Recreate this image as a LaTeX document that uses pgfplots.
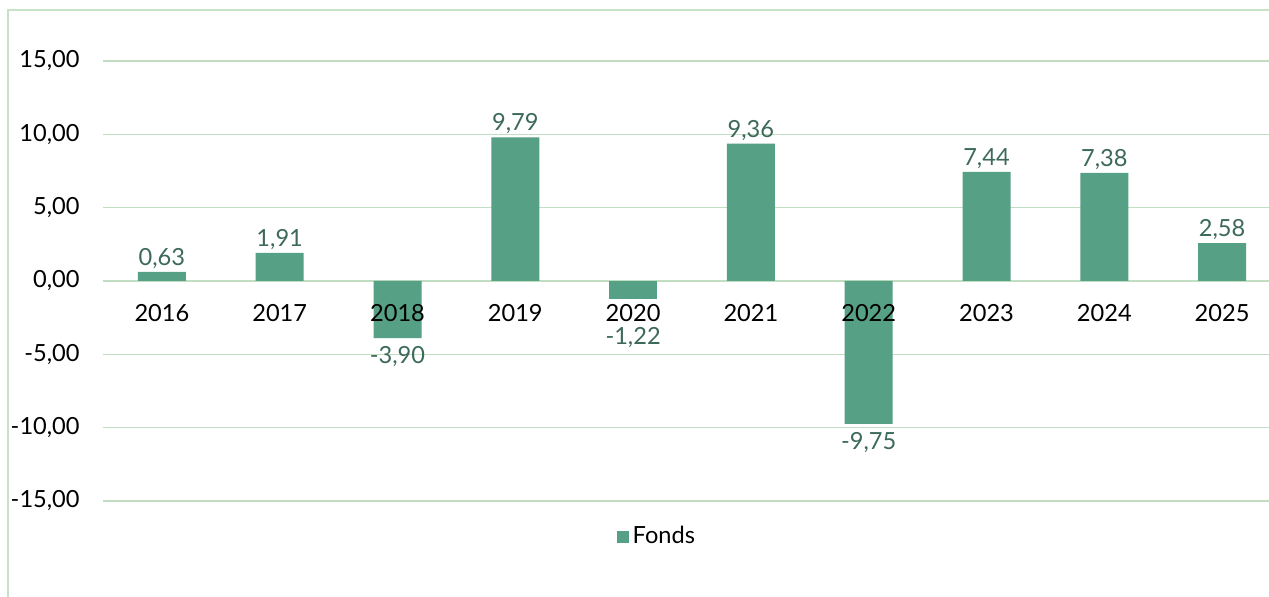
\documentclass[border=0pt]{standalone}
\usepackage{pgfplots}
\pgfplotsset{compat=1.18}
\usepackage{fontspec}
\setmainfont{Lato}
\definecolor{barcol}{HTML}{56A185}
\definecolor{labcol}{HTML}{3D6A58}
\definecolor{gridcol}{HTML}{C2DEC2}
\definecolor{framecol}{HTML}{C8E2C8}
\begin{document}
\fontsize{11.8}{14}\selectfont
\begin{tikzpicture}[x=0.5pt,y=0.5pt]
\path[use as bounding box] (0,0) rectangle (1269,597);
\clip (0,0) rectangle (1269,597);
\fill[white] (0,0) rectangle (1269,597);
\draw[framecol, line width=0.6pt] (8,0) -- (8,587) -- (1275,587);
\begin{axis}[
  at={(51.5pt,48pt)}, anchor=south west,
  scale only axis, width=589pt, height=220pt,
  xmin=-0.5, xmax=9.5, ymin=-15, ymax=15,
  axis line style={draw=none},
  tick style={draw=none},
  ymajorgrids, grid style={gridcol, line width=0.6pt},
  ytick={-15,-10,-5,0,5,10,15},
  yticklabels={{-15,00},{-10,00},{-5,00},{0,00},{5,00},{10,00},{15,00}},
  yticklabel style={anchor=east, inner sep=0pt, xshift=-11.5pt, font=\fontsize{11.8}{14}\selectfont},
  xtick={0,...,9},
  xticklabels={},
  ybar, bar width=24pt, bar shift=0pt,
  point meta=explicit symbolic,
  nodes near coords,
  nodes near coords style={text=labcol, font=\fontsize{11.8}{14}\selectfont},
  legend style={at={(0.471,-0.082)}, anchor=center, draw=none, fill=none, font=\fontsize{11.8}{14}\selectfont, inner sep=0pt},
  legend image code/.code={\fill[barcol] (0pt,-3pt) rectangle (6pt,3pt);},
  clip=false,
]
\addplot[fill=barcol, draw=none, nodes near coords style={anchor=south, inner sep=1.5pt}] coordinates {
 (0,0.63) [0,63]
 (1,1.91) [1,91]
 (3,9.79) [9,79]
 (5,9.36) [9,36]
 (7,7.44) [7,44]
 (8,7.38) [7,38]
 (9,2.58) [2,58]
};
\addlegendentry{Fonds}
\addplot[forget plot, fill=barcol, draw=none, nodes near coords style={anchor=north, inner sep=4pt}] coordinates {
 (2,-3.90) [-3,90]
 (6,-9.75) [-9,75]
};
\addplot[forget plot, fill=barcol, draw=none, nodes near coords style={anchor=north, inner sep=4pt, yshift=-10pt}] coordinates {
 (4,-1.22) [-1,22]
};
\foreach \i/\yr in {0/2016,1/2017,2/2018,3/2019,4/2020,5/2021,6/2022,7/2023,8/2024,9/2025}{
  \edef\temp{\noexpand\node[anchor=north, inner sep=0pt, yshift=-11.7pt, font=\noexpand\fontsize{11.8}{14}\noexpand\selectfont] at (axis cs:\i,0) {\yr};}
  \temp
}
\end{axis}
\end{tikzpicture}
\end{document}
